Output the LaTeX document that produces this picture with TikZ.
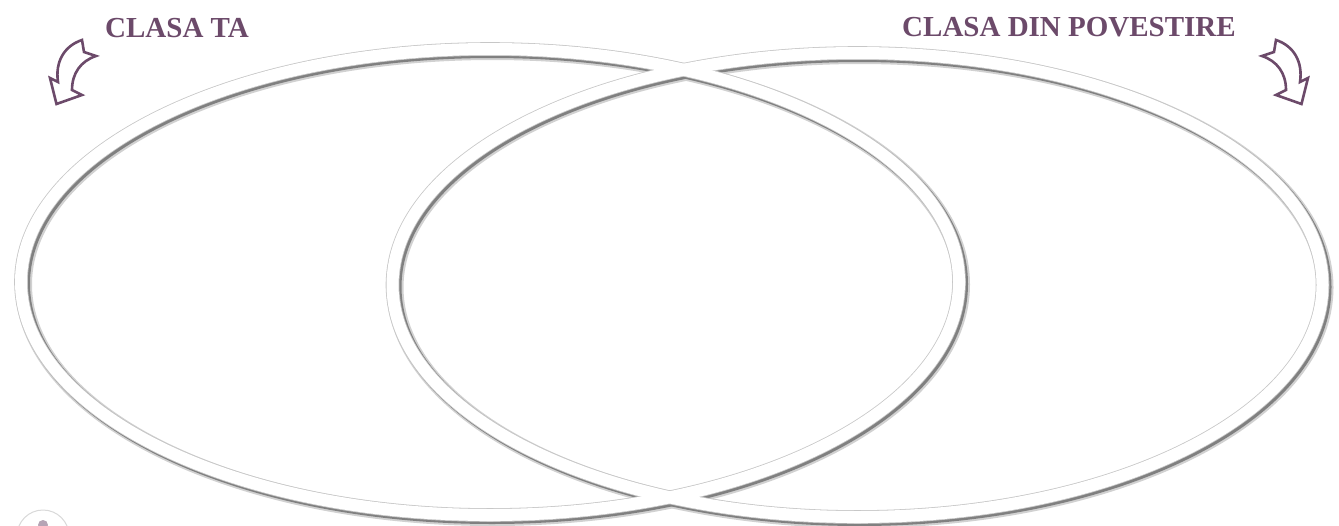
\documentclass[tikz,border=0pt]{standalone}
\usepackage{fontspec}
\setmainfont{Liberation Serif}
\definecolor{plum}{RGB}{108,74,106}
\tikzset{
  ringshadowsoft/.style={line width=17pt, draw=black!18},
  ringshadow/.style={line width=14pt, draw=black!50},
  ringedge/.style={line width=13.6pt, draw=black!22},
  ringband/.style={line width=12pt, draw=white},
  label/.style={font=\fontsize{29}{30}\selectfont\bfseries, text=plum, inner sep=0pt, anchor=base},
  curvearrow/.pic={
    \draw[plum, line width=2.6pt, fill=white, line join=miter]
      (82,40) -- (84,52) -- (96,56)
      .. controls (81,61) and (72,73) .. (72,90)
      -- (82,95) -- (56.5,104) -- (50,78) -- (58,82)
      .. controls (55,62) and (64,46) .. cycle;
  }
}
\begin{document}
\begin{tikzpicture}[x=1pt,y=-1pt]
\useasboundingbox (0,0) rectangle (1339,525);
\clip (0,0) rectangle (1339,525);
\fill[white] (0,0) rectangle (1339,525);
% shadows
\draw[ringshadowsoft] (492.5,284.5) ellipse [x radius=469pt, y radius=233pt];
\draw[ringshadowsoft] (860,287.5) ellipse [x radius=465pt, y radius=232pt];
\draw[ringshadow] (492,284) ellipse [x radius=469pt, y radius=233pt];
\draw[ringshadow] (859.5,287) ellipse [x radius=465pt, y radius=232pt];
% edges
\draw[ringedge] (490,282) ellipse [x radius=469pt, y radius=233pt];
\draw[ringedge] (857.5,285) ellipse [x radius=465pt, y radius=232pt];
% bands
\draw[ringband] (490,282) ellipse [x radius=469pt, y radius=233pt];
\draw[ringband] (857.5,285) ellipse [x radius=465pt, y radius=232pt];
% labels
\node[label] (ta) at (177,37) {CLASA TA};
\node[label] (din) at (1069,36) {CLASA DIN POVESTIRE};
% arrows
\pic (arrL) at (0,0) {curvearrow};
\pic[xscale=-1] (arrR) at (1358,0) {curvearrow};
% partial icon bottom-left
\draw[black!15, line width=1pt] (43,536) circle [radius=26pt];
\fill[plum!50] (43,525) circle [radius=5pt];
\end{tikzpicture}
\end{document}
